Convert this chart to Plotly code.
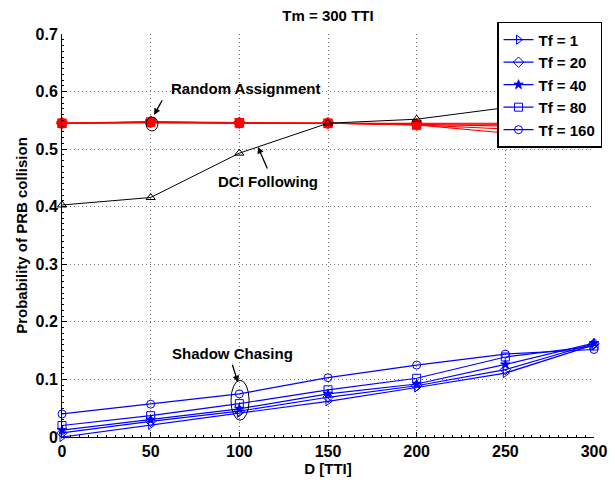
import plotly.graph_objects as go

D = [0, 50, 100, 150, 200, 250, 300]
tf_labels = ["Tf = 1", "Tf = 20", "Tf = 40", "Tf = 80", "Tf = 160"]
symbols = ["triangle-right-open", "diamond-open", "star", "square-open", "circle-open"]

# Shadow Chasing (blue)
shadow = [
    [0.000, 0.021, 0.042, 0.062, 0.086, 0.111, 0.160],   # Tf = 1
    [0.007, 0.027, 0.045, 0.069, 0.089, 0.117, 0.162],   # Tf = 20
    [0.012, 0.030, 0.049, 0.075, 0.092, 0.126, 0.163],   # Tf = 40
    [0.020, 0.037, 0.058, 0.082, 0.102, 0.139, 0.158],   # Tf = 80
    [0.040, 0.057, 0.075, 0.103, 0.125, 0.144, 0.152],   # Tf = 160
]

# Random Assignment (red)
random_assign = [
    [0.545, 0.546, 0.545, 0.545, 0.544, 0.545, 0.545],
    [0.545, 0.547, 0.546, 0.545, 0.543, 0.543, 0.542],
    [0.545, 0.548, 0.545, 0.545, 0.543, 0.540, 0.537],
    [0.545, 0.547, 0.546, 0.545, 0.542, 0.535, 0.530],
    [0.545, 0.546, 0.545, 0.545, 0.542, 0.528, 0.520],
]

# DCI Following (black)
dci = [0.403, 0.416, 0.493, 0.545, 0.552, 0.572, 0.590]

FONT = "Liberation Sans, Arial, sans-serif"
BLUE = "#0000ff"
RED = "#ff0000"

fig = go.Figure()

for i in range(5):
    fig.add_trace(go.Scatter(
        x=D, y=random_assign[i], mode="lines+markers", showlegend=False,
        line=dict(color=RED, width=1.2),
        marker=dict(symbol=symbols[i], size=8, color=RED, line=dict(color=RED, width=1.5)),
        cliponaxis=False,
    ))

fig.add_trace(go.Scatter(
    x=D, y=dci, mode="lines+markers", showlegend=False,
    line=dict(color="black", width=1),
    marker=dict(symbol="triangle-up-open", size=8, color="black", line=dict(color="black", width=1)),
    cliponaxis=False,
))

for i in range(5):
    fig.add_trace(go.Scatter(
        x=D, y=shadow[i], mode="lines+markers", name=tf_labels[i],
        line=dict(color=BLUE, width=1.2),
        marker=dict(symbol=symbols[i], size=8 if i != 2 else 7, color=BLUE,
                    line=dict(color=BLUE, width=1)),
        cliponaxis=False,
    ))

axis_common = dict(
    showline=True, linecolor="black", linewidth=1,
    ticks="inside", ticklen=5, tickcolor="black", tickwidth=1,
    showgrid=True, gridcolor="#777", griddash="1px,3px", gridwidth=1,
    zeroline=False, mirror=False, automargin=False,
    tickfont=dict(family=FONT, size=16, color="black", weight="bold"),
)

fig.update_xaxes(
    range=[0, 300], tickvals=[0, 50, 100, 150, 200, 250, 300],
    minor=dict(ticks="inside", ticklen=2, dtick=5, tickcolor="black", showgrid=False),
    title=dict(text="D [TTI]", font=dict(family=FONT, size=15, color="black", weight="bold"), standoff=2),
    **axis_common,
)
fig.update_yaxes(
    range=[0, 0.7], tickvals=[0, 0.1, 0.2, 0.3, 0.4, 0.5, 0.6, 0.7],
    ticktext=["0", "0.1", "0.2", "0.3", "0.4", "0.5", "0.6", "0.7"],
    minor=dict(ticks="inside", ticklen=2, dtick=0.01, tickcolor="black", showgrid=False),
    title=dict(text="Probability of PRB collision", font=dict(family=FONT, size=15, color="black", weight="bold"), standoff=4),
    **axis_common,
)

ann_font = dict(family=FONT, size=15, color="black", weight="bold")
annotations = [
    dict(x=103.2, y=0.6047, text="Random Assignment", showarrow=False, font=ann_font),
    dict(x=116.2, y=0.443, text="DCI Following", showarrow=False, font=ann_font),
    dict(x=95.9, y=0.1456, text="Shadow Chasing", showarrow=False, font=ann_font),
    dict(x=51.9, y=0.5595, ax=9, ay=-16, text="", showarrow=True, arrowhead=2,
         arrowsize=1, arrowwidth=1.3, arrowcolor="black"),
    dict(x=110.5, y=0.5038, ax=10, ay=23, text="", showarrow=True, arrowhead=2,
         arrowsize=1, arrowwidth=1.3, arrowcolor="black"),
    dict(x=99.2, y=0.0951, ax=-6, ay=-19, text="", showarrow=True, arrowhead=2,
         arrowsize=1, arrowwidth=1.3, arrowcolor="black"),
]

shapes = [
    dict(type="circle", xref="x", yref="y", x0=47.4, x1=54.1, y0=0.5316, y1=0.5557,
         line=dict(color="black", width=1)),
    dict(type="circle", xref="x", yref="y", x0=95.3, x1=105.5, y0=0.029, y1=0.0986,
         line=dict(color="black", width=1)),
]

fig.update_layout(
    width=615, height=482,
    margin=dict(l=62, r=21, t=34, b=45),
    plot_bgcolor="white", paper_bgcolor="white",
    title=dict(text="Tm = 300 TTI", x=0.5, xanchor="center", xref="paper", y=0.967, yanchor="middle",
               font=dict(family=FONT, size=15, color="black", weight="bold")),
    legend=dict(x=0.8177, y=1.03, xanchor="left", yanchor="top",
                bgcolor="white", bordercolor="black", borderwidth=1.5,
                font=dict(family=FONT, size=15, color="black", weight="bold"),
                tracegroupgap=0, itemwidth=30),
    annotations=annotations,
    shapes=shapes,
    showlegend=True,
)

fig.write_html("out.html", config={"displayModeBar": False},
               post_script="document.body.style.margin='0';document.body.style.overflow='hidden';")
